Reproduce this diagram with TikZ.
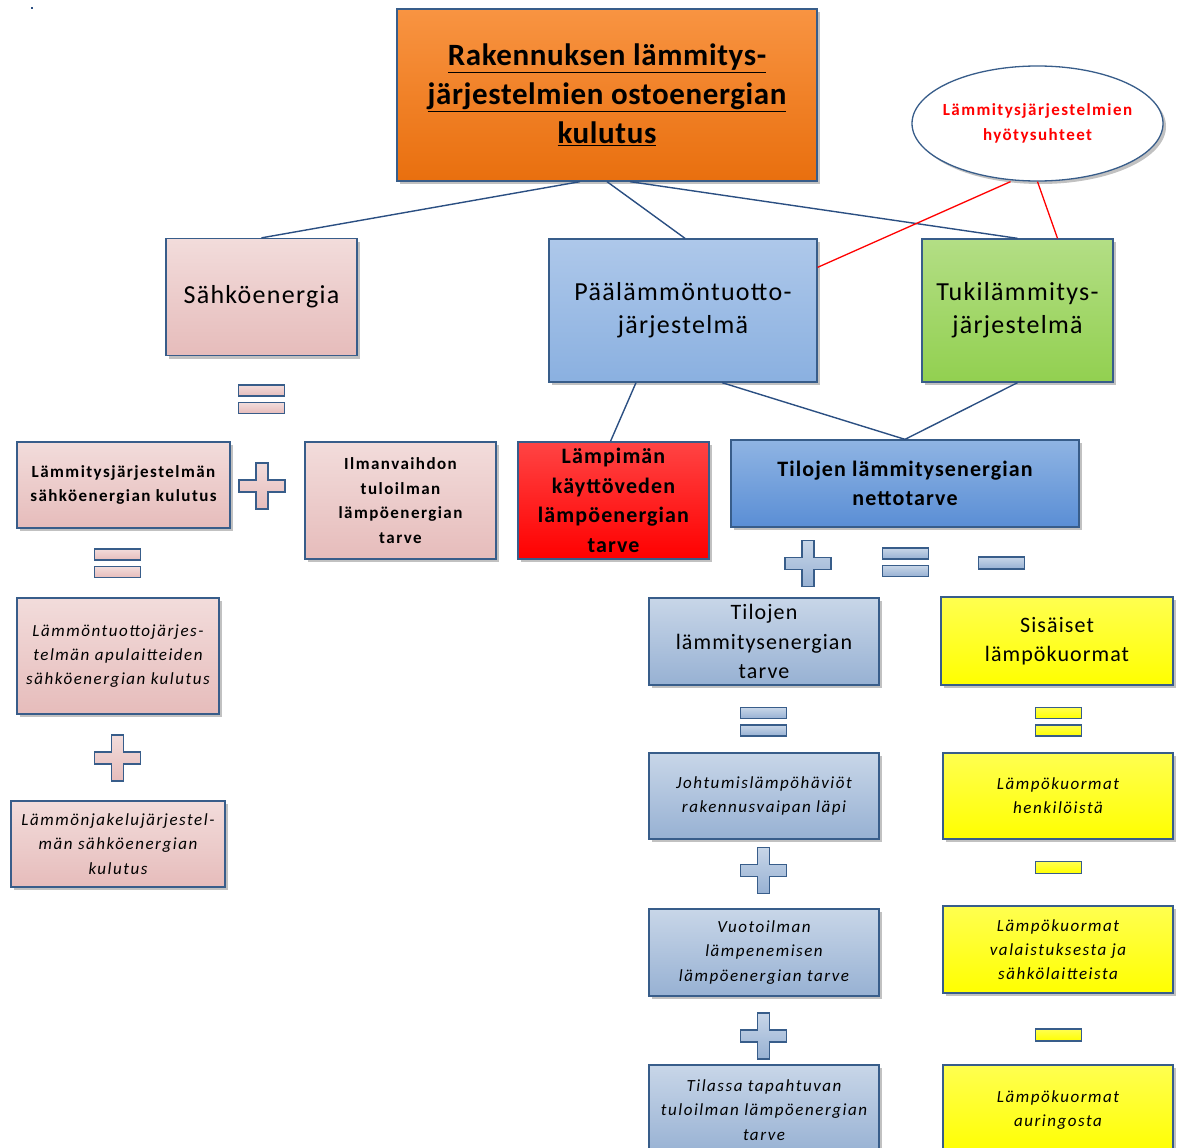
\documentclass[tikz,border=0pt]{standalone}
\usepackage{fontspec}
\setmainfont{Carlito}
\usetikzlibrary{shapes.geometric,shadows}
\definecolor{edge}{HTML}{385D8A}
\definecolor{conn}{HTML}{2B4F82}
\definecolor{pinkT}{HTML}{F2DCDB}
\definecolor{pinkB}{HTML}{E6BCBB}
\definecolor{blueT}{HTML}{AEC8EA}
\definecolor{blueB}{HTML}{8AB0E0}
\definecolor{greenT}{HTML}{B3DE85}
\definecolor{greenB}{HTML}{92D050}
\definecolor{orangeT}{HTML}{F89442}
\definecolor{orangeB}{HTML}{E96F0E}
\definecolor{redT}{HTML}{FF4444}
\definecolor{redB}{HTML}{FF0000}
\definecolor{nettoT}{HTML}{8FB4E3}
\definecolor{nettoB}{HTML}{5A8ED5}
\definecolor{grayT}{HTML}{C8D6E8}
\definecolor{grayB}{HTML}{97B1D3}
\definecolor{yelT}{HTML}{FFFF50}
\definecolor{yelB}{HTML}{FFFF00}
\begin{document}
\begin{tikzpicture}[x=1pt,y=-1pt,
  shad/.style={drop shadow={shadow xshift=3pt,shadow yshift=-3pt,opacity=0.35,fill=black!70}},
  box/.style={draw=edge,line width=1.3pt,align=center,inner sep=0pt,shad},
  pinkbox/.style={box,top color=pinkT,bottom color=pinkB},
  bluebox/.style={box,top color=blueT,bottom color=blueB},
  graybox/.style={box,top color=grayT,bottom color=grayB},
  yelbox/.style={box,top color=yelT,bottom color=yelB},
  conline/.style={draw=conn,line width=1.4pt},
  redline/.style={draw=red,line width=1.3pt},
  op/.style={draw=edge,line width=1.2pt,shad},
  pinkop/.style={op,top color=pinkT,bottom color=pinkB},
  grayop/.style={op,top color=grayT,bottom color=grayB},
  yelop/.style={op,top color=yelT,bottom color=yelB},
  fbig/.style={font=\fontsize{26}{33}\selectfont\addfontfeature{LetterSpace=5}},
  fsb/.style={font=\fontsize{17}{24.5}\selectfont\bfseries\addfontfeature{LetterSpace=8.5}},
  fmb/.style={font=\fontsize{22}{29.5}\selectfont\bfseries\addfontfeature{LetterSpace=5}},
  fmr/.style={font=\fontsize{22}{29.5}\selectfont\addfontfeature{LetterSpace=5}},
  fit/.style={font=\fontsize{17}{24.3}\selectfont\itshape\addfontfeature{LetterSpace=9}},
  plusop/.pic={\path[pic actions] (-23,-6) -- (-6,-6) -- (-6,-23) -- (6,-23) -- (6,-6) -- (23,-6) -- (23,6) -- (6,6) -- (6,23) -- (-6,23) -- (-6,6) -- (-23,6) -- cycle;},
  eqop/.pic={\path[pic actions] (-23,-14.5) rectangle (23,-3.5); \path[pic actions] (-23,3) rectangle (23,14);},
  minop/.pic={\path[pic actions] (-23,-6) rectangle (23,6);}
]
\useasboundingbox (0,0) rectangle (1181,1148);
\fill[conn] (31,7) rectangle (33,9);

% top level
\node[box,top color=orangeT,bottom color=orangeB,minimum width=420,minimum height=172,
  font=\fontsize{31}{39}\selectfont\bfseries\addfontfeature{LetterSpace=2}] (title) at (607,95)
  {\underline{Rakennuksen lämmitys-}\\\underline{järjestelmien ostoenergian}\\\underline{kulutus}};
\node[ellipse,draw=edge,line width=1.3pt,fill=white,shad,minimum width=251,minimum height=115,
  align=center,inner xsep=-9pt,inner ysep=0pt,text=red,fsb] (ell) at (1037.5,123.5)
  {Lämmitysjärjestelmien\\hyötysuhteet};

% second level
\node[pinkbox,minimum width=191,minimum height=117,fbig] (sahko) at (261.5,297) {Sähköenergia};
\node[bluebox,minimum width=268,minimum height=143,fbig] (paa) at (683,310.5) {Päälämmöntuotto-\\järjestelmä};
\node[box,top color=greenT,bottom color=greenB,minimum width=191,minimum height=143,fbig] (tuki) at (1017.5,310.5) {Tukilämmitys-\\järjestelmä};

% left column
\node[pinkbox,minimum width=213,minimum height=86,fsb] (lamsahko) at (123.5,485) {Lämmitysjärjestelmän\\sähköenergian kulutus};
\node[pinkbox,minimum width=191,minimum height=117,fsb] (ilma) at (400.5,500.5) {Ilmanvaihdon\\tuloilman\\lämpöenergian\\tarve};
\node[pinkbox,minimum width=202,minimum height=116,fit] (apu) at (118,656) {Lämmöntuottojärjes-\\telmän apulaitteiden\\sähköenergian kulutus};
\node[pinkbox,minimum width=214,minimum height=86,fit] (jak) at (118,844) {Lämmönjakelujärjestel-\\män sähköenergian\\kulutus};

% middle
\node[box,top color=redT,bottom color=redB,minimum width=191,minimum height=117,fmb] (lkv) at (613.5,500.5) {Lämpimän\\käyttöveden\\lämpöenergian\\tarve};
\node[box,top color=nettoT,bottom color=nettoB,minimum width=348,minimum height=87,fmb] (netto) at (905,483.5) {Tilojen lämmitysenergian\\nettotarve};

% right columns
\node[graybox,minimum width=230,minimum height=87,fmr] (tarve) at (764,641.5) {Tilojen\\lämmitysenergian\\tarve};
\node[yelbox,minimum width=232,minimum height=88,fmr] (sis) at (1057,641) {Sisäiset\\lämpökuormat};
\node[graybox,minimum width=230,minimum height=86,fit] (joht) at (764,796) {Johtumislämpöhäviöt\\rakennusvaipan läpi};
\node[yelbox,minimum width=230,minimum height=86,fit] (henk) at (1058,796) {Lämpökuormat\\henkilöistä};
\node[graybox,minimum width=230,minimum height=87,fit] (vuot) at (764,952.5) {Vuotoilman\\lämpenemisen\\lämpöenergian tarve};
\node[yelbox,minimum width=230,minimum height=87,fit] (val) at (1058,949.5) {Lämpökuormat\\valaistuksesta ja\\sähkölaitteista};
\node[graybox,minimum width=230,minimum height=90,fit] (tila) at (764,1110) {Tilassa tapahtuvan\\tuloilman lämpöenergian\\tarve};
\node[yelbox,minimum width=230,minimum height=90,fit] (aur) at (1058,1110) {Lämpökuormat\\auringosta};

% operators
\pic[pinkop] at (261.5,399.5) {eqop};
\pic[pinkop] at (262,486) {plusop};
\pic[pinkop] at (117.5,563.5) {eqop};
\pic[pinkop] at (117.5,758) {plusop};
\pic[grayop] at (808,563.5) {plusop};
\pic[grayop] at (905.5,562.5) {eqop};
\pic[grayop] at (1001.5,563) {minop};
\pic[grayop] at (763.5,722) {eqop};
\pic[yelop] at (1058.5,722) {eqop};
\pic[grayop] at (763.5,870.5) {plusop};
\pic[yelop] at (1058.5,867.5) {minop};
\pic[grayop] at (763.5,1036) {plusop};
\pic[yelop] at (1058.5,1035) {minop};

% connectors
\draw[conline] ([xshift=-27pt]title.south) -- (sahko.north);
\draw[conline] (title.south) -- ([xshift=2pt]paa.north);
\draw[conline] ([xshift=23pt]title.south) -- (tuki.north);
\draw[conline] ([xshift=-47pt]paa.south) -- ([xshift=-3pt]lkv.north);
\draw[conline] ([xshift=39pt]paa.south) -- (netto.north);
\draw[conline] (tuki.south) -- (netto.north);
\draw[redline] ([xshift=-27pt]ell.south) -- ([yshift=-29pt]paa.north east);
\draw[redline] (ell.south) -- ([xshift=40pt]tuki.north);
\end{tikzpicture}
\end{document}
